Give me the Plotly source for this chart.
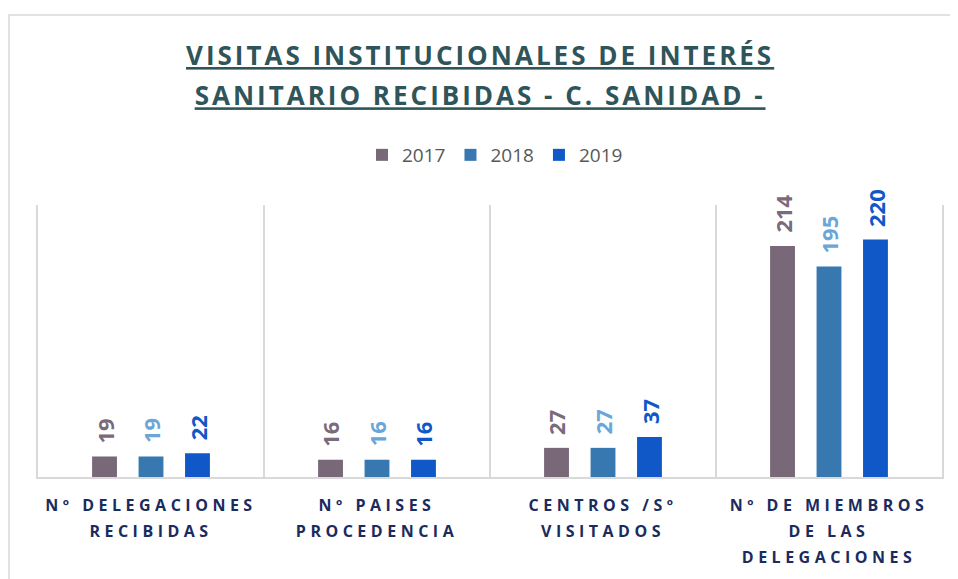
import plotly.graph_objects as go

categories = [["Nº DELEGACIONES", "RECIBIDAS"], ["Nº PAISES", "PROCEDENCIA"],
              ["CENTROS /Sº", "VISITADOS"], ["Nº DE MIEMBROS", "DE LAS", "DELEGACIONES"]]
years = ["2017", "2018", "2019"]
v2017 = [19, 16, 27, 214]
v2018 = [19, 16, 27, 195]
v2019 = [22, 16, 37, 220]
series = [v2017, v2018, v2019]

bar_colors = ["#786878", "#3778b0", "#1057c8"]
label_colors = ["#7a6a7a", "#6aa6d8", "#1057c8"]

# page has an 8px body offset
OFF = 8
W, H = 958, 579
L, R, T, B = 38 - OFF, 16 + OFF, 205 - OFF, 579 - 477 + OFF
PW, PH = W - L - R, H - T - B
bargap = 0.383
bargroupgap = 0.465
slot = (1 - bargap) / 3


def py(page_y):
    return (H - B - (page_y - OFF)) / PH


def px(page_x):
    return (page_x - OFF - L) / PW


xs = list(range(len(categories)))
fig = go.Figure()
annotations = []
for k, (yr, vals) in enumerate(zip(years, series)):
    fig.add_trace(go.Bar(x=xs, y=vals, name=yr, marker_color=bar_colors[k],
                         marker_line_width=0, hoverinfo="x+y"))
    for i, v in enumerate(vals):
        annotations.append(dict(
            x=i + (k - 1) * slot, y=v, xref="x", yref="y", text=f"<b>{v}</b>",
            showarrow=False, textangle=-90, xanchor="center", yanchor="bottom",
            yshift=11, font=dict(family="Open Sans", size=22, color=label_colors[k])))

title_lines = ["VISITAS INSTITUCIONALES DE INTERÉS", "SANITARIO RECIBIDAS - C. SANIDAD -"]
title_html = "<br>".join(
    f"<b><u><span style='font-size:26px;letter-spacing:3px'>{t}</span></u></b>" for t in title_lines)
annotations.append(dict(x=px(480), xref="paper", y=py(75), yref="paper", text=title_html,
                        showarrow=False, xanchor="center", yanchor="middle",
                        font=dict(family="Open Sans", size=31, color="#2f5459")))

ticktext = ["<br>".join(f"<b><span style='font-size:16px;letter-spacing:4.5px'>{ln}</span></b>" for ln in c)
            for c in categories]

fig.update_layout(
    width=W, height=H, margin=dict(l=L, r=R, t=T, b=B),
    paper_bgcolor="white", plot_bgcolor="white",
    barmode="group", bargap=bargap, bargroupgap=bargroupgap,
    showlegend=True,
    legend=dict(orientation="h", x=px(495), xanchor="center", y=py(155), yanchor="middle",
                font=dict(family="Open Sans", size=19, color="#595959"),
                traceorder="normal"),
    annotations=annotations,
    xaxis=dict(tickmode="array", tickvals=xs, ticktext=ticktext, range=[-0.5, len(categories) - 0.5],
               showgrid=False, showline=True, linecolor="#d9d9d9", linewidth=2, ticks="",
               ticklabelstandoff=8,
               tickfont=dict(family="Open Sans", size=20, color="#1a2b5e"),
               minor=dict(tickvals=[0.5, 1.5, 2.5], showgrid=True, gridcolor="#d9d9d9", gridwidth=2)),
    yaxis=dict(range=[0, 252], showgrid=False, showticklabels=False, zeroline=False,
               showline=True, mirror=True, linecolor="#d9d9d9", linewidth=2, ticks=""),
    shapes=[dict(type="rect", xref="paper", yref="paper",
                 x0=px(OFF + 1), x1=px(W + 20),
                 y0=py(H + 20), y1=py(15),
                 line=dict(color="#d9d9d9", width=1.5), fillcolor="rgba(0,0,0,0)", layer="below")],
)

fig.write_html("out.html")
